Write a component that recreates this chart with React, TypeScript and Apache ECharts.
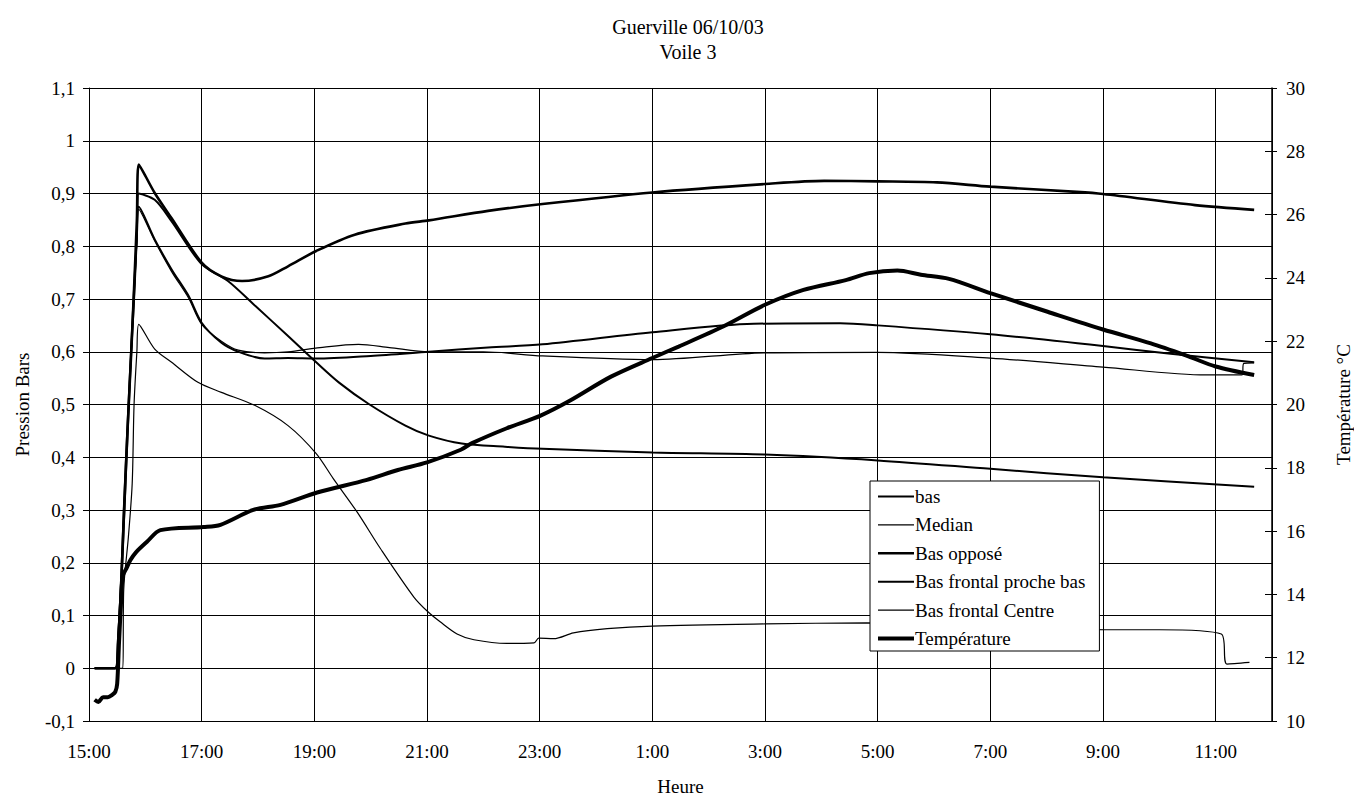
import React, { useEffect, useRef } from "react";
import * as echarts from "echarts";

// Time ("HH:MM", 15:00 -> next day 12:00), pressure in bars
const basOppose: [string, number][] = [
  ["15:06", 0], ["15:28", 0], ["15:31", 0.05], ["15:34", 0.15], ["15:37", 0.28], ["15:41", 0.45],
  ["15:45", 0.6], ["15:48", 0.72], ["15:51", 0.85], ["15:53", 0.955], ["16:10", 0.901],
  ["16:28", 0.853], ["17:00", 0.769], ["17:21", 0.743], ["17:43", 0.734], ["18:11", 0.743], ["18:32", 0.762],
  ["19:02", 0.791], ["19:43", 0.822], ["20:37", 0.843], ["21:02", 0.849], ["22:05", 0.867], ["23:03", 0.88],
  ["1:00", 0.902], ["3:00", 0.918], ["4:03", 0.924], ["5:00", 0.923], ["6:03", 0.921], ["7:00", 0.913],
  ["8:32", 0.903], ["9:00", 0.899], ["10:38", 0.878], ["11:41", 0.869],
];

const basFrontalProcheBas: [string, number][] = [
  ["15:06", 0], ["15:28", 0], ["15:31", 0.04], ["15:34", 0.14], ["15:37", 0.27], ["15:41", 0.44],
  ["15:45", 0.6], ["15:48", 0.7], ["15:51", 0.82], ["15:53", 0.9], ["16:10", 0.888], ["16:28", 0.847],
  ["17:00", 0.766], ["17:28", 0.734], ["17:57", 0.687], ["18:32", 0.63], ["19:02", 0.58], ["19:26", 0.542],
  ["19:58", 0.501], ["20:37", 0.46], ["21:02", 0.441], ["21:37", 0.426], ["22:23", 0.42], ["23:03", 0.416],
  ["1:00", 0.409], ["3:00", 0.405], ["5:00", 0.394], ["7:00", 0.378], ["9:00", 0.362], ["11:41", 0.344],
];

const bas: [string, number][] = [
  ["15:06", 0], ["15:28", 0], ["15:31", 0.06], ["15:34", 0.16], ["15:37", 0.3], ["15:41", 0.46],
  ["15:45", 0.61], ["15:48", 0.72], ["15:51", 0.82], ["15:53", 0.875], ["16:10", 0.813], ["16:28", 0.756],
  ["16:46", 0.706], ["17:00", 0.655], ["17:21", 0.617], ["17:39", 0.6], ["18:07", 0.587], ["18:32", 0.588],
  ["19:02", 0.587], ["20:00", 0.592], ["21:02", 0.6], ["22:05", 0.608], ["23:03", 0.614], ["1:00", 0.637],
  ["2:48", 0.653], ["4:20", 0.654], ["5:00", 0.65], ["7:00", 0.633], ["9:00", 0.611], ["10:12", 0.596],
  ["11:41", 0.58],
];

const median: [string, number][] = [
  ["15:06", 0], ["15:28", 0], ["15:31", 0.05], ["15:34", 0.15], ["15:37", 0.29], ["15:41", 0.45],
  ["15:45", 0.6], ["15:48", 0.71], ["15:51", 0.81], ["15:53", 0.87], ["16:10", 0.81], ["16:28", 0.752],
  ["16:46", 0.702], ["17:00", 0.652], ["17:21", 0.62], ["17:39", 0.603], ["18:07", 0.598], ["18:32", 0.6],
  ["19:06", 0.608], ["19:47", 0.614], ["20:20", 0.608], ["21:02", 0.6], ["22:00", 0.6], ["23:03", 0.592],
  ["1:00", 0.585], ["3:00", 0.598], ["5:00", 0.599], ["7:00", 0.588], ["9:00", 0.571], ["10:50", 0.556],
  ["11:28", 0.556], ["11:30", 0.578], ["11:41", 0.579],
];

const basFrontalCentre: [string, number][] = [
  ["15:06", 0], ["15:36", 0], ["15:37", 0.15], ["15:42", 0.25], ["15:46", 0.35], ["15:48", 0.5],
  ["15:51", 0.6], ["15:53", 0.652], ["16:10", 0.605], ["16:28", 0.58], ["16:56", 0.542], ["17:21", 0.523],
  ["17:57", 0.498], ["18:32", 0.46], ["19:02", 0.407], ["19:20", 0.36], ["19:46", 0.295], ["20:10", 0.228],
  ["20:46", 0.135], ["21:01", 0.107], ["21:14", 0.088], ["21:32", 0.065], ["21:50", 0.054],
  ["22:25", 0.047], ["22:54", 0.048], ["22:59", 0.057], ["23:15", 0.056], ["23:36", 0.067], ["0:12", 0.075],
  ["1:00", 0.08], ["3:00", 0.084], ["4:48", 0.086], ["7:00", 0.082], ["9:02", 0.073], ["10:00", 0.073],
  ["11:06", 0.065], ["11:12", 0.008], ["11:36", 0.011],
];

// Temperature in °C (right axis)
const temperature: [string, number][] = [
  ["15:06", 10.67], ["15:10", 10.6], ["15:15", 10.75], ["15:20", 10.75], ["15:25", 10.83], ["15:28", 10.92],
  ["15:30", 11.17], ["15:32", 12.5], ["15:34", 13.67], ["15:36", 14.58], ["15:40", 14.83], ["15:44", 15.08],
  ["15:50", 15.33], ["16:02", 15.67], ["16:16", 16.03], ["17:02", 16.13], ["17:20", 16.2], ["17:55", 16.67],
  ["18:24", 16.83], ["19:03", 17.22], ["19:56", 17.62], ["20:29", 17.93], ["21:00", 18.17], ["21:36", 18.57],
  ["21:48", 18.78], ["22:25", 19.25], ["23:01", 19.65], ["23:31", 20.1], ["0:16", 20.88], ["1:00", 21.47],
  ["1:28", 21.83], ["2:16", 22.47], ["3:00", 23.15], ["3:41", 23.62], ["4:26", 23.93], ["4:51", 24.15],
  ["5:21", 24.23], ["5:46", 24.1], ["6:16", 23.97], ["7:00", 23.52], ["8:01", 22.93], ["9:00", 22.37],
  ["9:51", 21.93], ["10:31", 21.52], ["11:00", 21.2], ["11:41", 20.93],
];

const FONT = "'Liberation Serif', 'Times New Roman', serif";

function toHours(s: string): number {
  const [h, m] = s.split(":").map(Number);
  const hh = h < 15 ? h + 24 : h;
  return hh - 15 + m / 60;
}
const conv = (arr: [string, number][]) => arr.map(([t, v]) => [toHours(t), v]);

export default function App() {
  const ref = useRef<HTMLDivElement>(null);
  useEffect(() => {
    document.body.style.margin = "0";
    const chart = echarts.init(ref.current!, undefined, { renderer: "svg" });
    const txt = { color: "#000", fontFamily: FONT, fontSize: 19 };
    const line = (name: string, data: [string, number][], width: number, yAxisIndex = 0) => ({
      name,
      type: "line",
      data: conv(data),
      yAxisIndex,
      symbol: "none",
      smooth: 0.3,
      lineStyle: { color: "#000", width },
      itemStyle: { color: "#000" },
      z: 3,
    });
    chart.setOption({
      animation: false,
      backgroundColor: "#fff",
      title: {
        text: "Guerville 06/10/03\nVoile 3",
        left: 683,
        top: 9,
        textAlign: "center",
        textStyle: { ...txt, fontSize: 20, fontWeight: "normal", lineHeight: 25 },
      },
      legend: {
        orient: "vertical",
        left: 870,
        top: 481,
        padding: [6, 14, 3, 6],
        backgroundColor: "#fff",
        borderColor: "#000",
        borderWidth: 1,
        itemWidth: 36,
        itemHeight: 20,
        itemGap: 9.4,
        itemStyle: { opacity: 0 },
        lineStyle: { width: "inherit" },
        textStyle: { ...txt, padding: [0, 0, 0, -4] },
        data: ["bas", "Median", "Bas opposé", "Bas frontal proche bas", "Bas frontal Centre", "Température"],
      },
      grid: { left: 89, right: 82, top: 88, bottom: 75, outerBoundsMode: "none" },
      xAxis: {
        type: "value",
        min: 0,
        max: 21,
        interval: 2,
        name: "Heure",
        nameLocation: "middle",
        nameGap: 56,
        nameTextStyle: txt,
        axisLine: { lineStyle: { color: "#000", width: 1 } },
        axisTick: { length: 5, lineStyle: { color: "#000" } },
        axisLabel: {
          ...txt,
          margin: 21,
          showMaxLabel: false,
          formatter: (v: number) => `${(15 + Math.round(v)) % 24}:00`,
        },
        splitLine: { show: true, lineStyle: { color: "#000", width: 1 } },
      },
      yAxis: [
        {
          type: "value",
          min: -0.1,
          max: 1.1,
          interval: 0.1,
          name: "Pression Bars",
          nameLocation: "middle",
          nameGap: 57,
          nameRotate: 90,
          nameTextStyle: txt,
          axisLine: { show: true, lineStyle: { color: "#000", width: 1 } },
          axisTick: { show: true, length: 6, lineStyle: { color: "#000" } },
          axisLabel: {
            ...txt,
            margin: 14,
            formatter: (v: number) => String(Math.round(v * 10) / 10).replace(".", ","),
          },
          splitLine: { show: true, lineStyle: { color: "#000", width: 1 } },
        },
        {
          type: "value",
          position: "right",
          min: 10,
          max: 30,
          interval: 2,
          name: "Température °C",
          nameLocation: "middle",
          nameGap: 62,
          nameRotate: 90,
          nameTextStyle: txt,
          axisLine: { show: true, lineStyle: { color: "#000", width: 1.5 } },
          axisTick: { show: true, length: 5, lineStyle: { color: "#000" } },
          axisLabel: { ...txt, margin: 14 },
          splitLine: { show: false },
        },
        {
          type: "value",
          position: "right",
          min: 10,
          max: 30,
          interval: 2,
          axisLine: { show: false },
          axisTick: { show: true, inside: true, length: 7, lineStyle: { color: "#000" } },
          axisLabel: { show: false },
          splitLine: { show: false },
        },
      ],
      series: [
        line("bas", bas, 2),
        line("Median", median, 1.2),
        line("Bas opposé", basOppose, 2.6),
        line("Bas frontal proche bas", basFrontalProcheBas, 2),
        line("Bas frontal Centre", basFrontalCentre, 1.2),
        line("Température", temperature, 4, 1),
      ],
    });
    return () => chart.dispose();
  }, []);
  return <div ref={ref} style={{ width: 1354, height: 796 }} />;
}
